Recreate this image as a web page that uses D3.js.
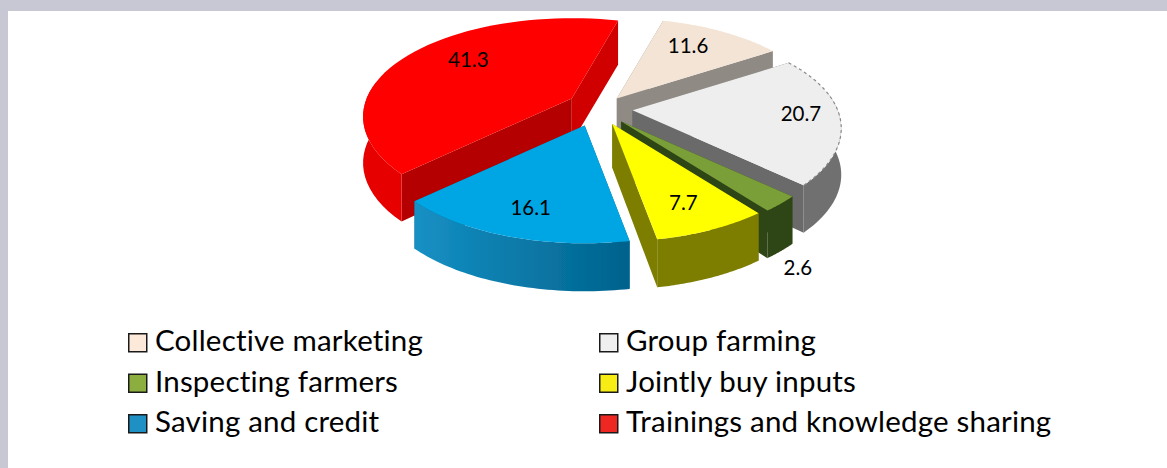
<!DOCTYPE html>
<html>
<head>
<meta charset="utf-8">
<script src="https://cdn.jsdelivr.net/npm/d3@7"></script>
<style>
  html, body { margin: 0; padding: 0; background: #fff; }
  svg { display: block; }
  text { font-family: Lato, "Open Sans", sans-serif; fill: #000; font-variant-ligatures: none; }
</style>
</head>
<body>
<svg width="1167" height="468"></svg>
<script>
// chart values, in pie order (clockwise)
var categories = ["Collective marketing", "Group farming", "Inspecting farmers", "Jointly buy inputs", "Saving and credit", "Trainings and knowledge sharing"];
var values = [11.6, 20.7, 2.6, 7.7, 16.1, 41.3];
var valueLabels = ["11.6", "20.7", "2.6", "7.7", "16.1", "41.3"];
var topColors = ["#f3e4d6", "#eeeeee", "#7a9f38", "#ffff00", "#00a6e3", "#fe0000"];
var wallColors = ["#8f8a84", "#6f6f6f", "#2f4514", "#7d7d00", "#0a7fae", "#e60000"];
var cutStartColors = ["#8f8a84", "#6b6b6b", "#2f4514", "#7d7d00", "#006a96", "#b40000"];
var cutEndColors = ["#8f8a84", "#6b6b6b", "#2f4514", "#7d7d00", "#006a96", "#d00000"];
var legendColors = ["#fde9d9", "#efefef", "#8cae3e", "#f7ec13", "#1f90c4", "#ee2722"];
var drawOrder = [0, 5, 1, 2, 3, 4];

// layout tweaks per slice
var nudges = [[-1, -2], [3, -3], [1, -1], [0, -1], [-6, 0], [-3, -6]];
var labelAngleShift = [-3.5, -2.5, 12.8, 1, -0.8, 6];
var labelRadius = [0.75, 0.815, 1.47, 0.74, 0.74, 0.72];

var svg = d3.select("svg");

// page frame
svg.append("rect").attr("width", 1167).attr("height", 11).attr("fill", "#c8c8d4");
svg.append("rect").attr("y", 11).attr("width", 8).attr("height", 457).attr("fill", "#c8c8d4");

// pie geometry
var cx = 600, cy = 112, rx = 228, ry = 110, explode = 0.13;
var pie = d3.pie().sort(null).startAngle(16 * Math.PI / 180).endAngle(376 * Math.PI / 180);
var arcs = pie(values);
arcs.forEach(function(d, i) { d.idx = i; });

// perspective: slices get bigger toward the viewer
var persp = d3.scaleLinear().domain([-1, 1]).range([0.73, 1.07]);
var depth = d3.scaleLinear().domain([-1, 1]).range([44, 48]);

function apex(d) {
  var m = (d.startAngle + d.endAngle) / 2;
  return [cx + explode * rx * Math.sin(m) + nudges[d.idx][0], cy - explode * ry * Math.cos(m) + nudges[d.idx][1]];
}
function rim(d, a, f) {
  var o = apex(d), v = -Math.cos(a), s = persp(v) * (f === undefined ? 1 : f);
  return [o[0] + rx * Math.sin(a) * s, o[1] + ry * v * s];
}
function down(p, a) {
  return [p[0], p[1] + depth(-Math.cos(a))];
}
function rimAngles(d) {
  var n = 48;
  return d3.range(n + 1).map(function(i) { return d.startAngle + (d.endAngle - d.startAngle) * i / n; });
}
var line = d3.line();

var defs = svg.append("defs");
// shading on the blue outer wall
var grad = defs.append("linearGradient").attr("id", "blueWall");
grad.append("stop").attr("offset", "0%").attr("stop-color", "#1590c4");
grad.append("stop").attr("offset", "100%").attr("stop-color", "#00628c");
// the source picture is a soft scan
defs.append("filter").attr("id", "soft")
  .attr("x", "-5%").attr("y", "-5%").attr("width", "110%").attr("height", "110%")
  .append("feGaussianBlur").attr("stdDeviation", 0.6);

var pieLayer = svg.append("g").attr("filter", "url(#soft)");
var slices = pieLayer.selectAll("g.slice").data(drawOrder).enter().append("g").attr("class", "slice");

slices.each(function(i) {
  var d = arcs[i], g = d3.select(this), o = apex(d);
  var angs = rimAngles(d);
  var topPts = angs.map(function(a) { return rim(d, a); });
  var first = topPts[0], last = topPts[topPts.length - 1];

  // two cut walls
  [[d.startAngle, first, cutStartColors[i]], [d.endAngle, last, cutEndColors[i]]].forEach(function(e) {
    g.append("path")
      .attr("d", line([o, e[1], down(e[1], e[0]), down(o, 0)]) + "Z")
      .attr("fill", e[2]);
  });
  // outer wall, only the part facing the viewer
  var wall = angs.filter(function(a) { return -Math.cos(a) > -0.2; });
  if (wall.length > 1) {
    var upper = wall.map(function(a) { return rim(d, a); });
    var lower = wall.map(function(a) { return down(rim(d, a), a); }).reverse();
    g.append("path")
      .attr("d", line(upper.concat(lower)) + "Z")
      .attr("fill", i === 4 ? "url(#blueWall)" : wallColors[i]);
  }
  // top face
  g.append("path")
    .attr("d", line([o].concat(topPts)) + "Z")
    .attr("fill", topColors[i]);
  if (i === 1) {
    g.append("path")
      .attr("d", line(topPts))
      .attr("fill", "none")
      .attr("stroke", "#8a8a8a")
      .attr("stroke-width", 1.2)
      .attr("stroke-dasharray", "3 3");
  }
});

// value labels
function labelPos(d, i) {
  var m = (d.startAngle + d.endAngle) / 2 + labelAngleShift[i] * Math.PI / 180;
  return rim(d, m, labelRadius[i]);
}
svg.selectAll("text.val").data(arcs).enter().append("text")
  .attr("class", "val")
  .attr("text-anchor", "middle")
  .attr("font-size", 20.5)
  .attr("x", function(d, i) { return labelPos(d, i)[0]; })
  .attr("y", function(d, i) { return labelPos(d, i)[1] + 7; })
  .text(function(d, i) { return valueLabels[i]; });

// legend
var col = d3.scalePoint().domain([0, 1]).range([128, 599]);
var row = d3.scalePoint().domain([0, 1, 2]).range([333, 414]);
var legend = svg.selectAll("g.legend").data(categories).enter().append("g")
  .attr("class", "legend")
  .attr("transform", function(d, i) {
    return "translate(" + col(i % 2) + "," + row(Math.floor(i / 2)) + ")";
  });
legend.append("rect")
  .attr("x", 0.75).attr("y", 0.75).attr("width", 18).attr("height", 18)
  .attr("fill", function(d, i) { return legendColors[i]; })
  .attr("stroke", "#1a1a1a").attr("stroke-width", 1.5);
legend.append("text")
  .attr("x", 27).attr("y", 18)
  .attr("font-size", 29.5)
  .attr("letter-spacing", 0.2)
  .text(function(d) { return d; });
</script>
</body>
</html>
